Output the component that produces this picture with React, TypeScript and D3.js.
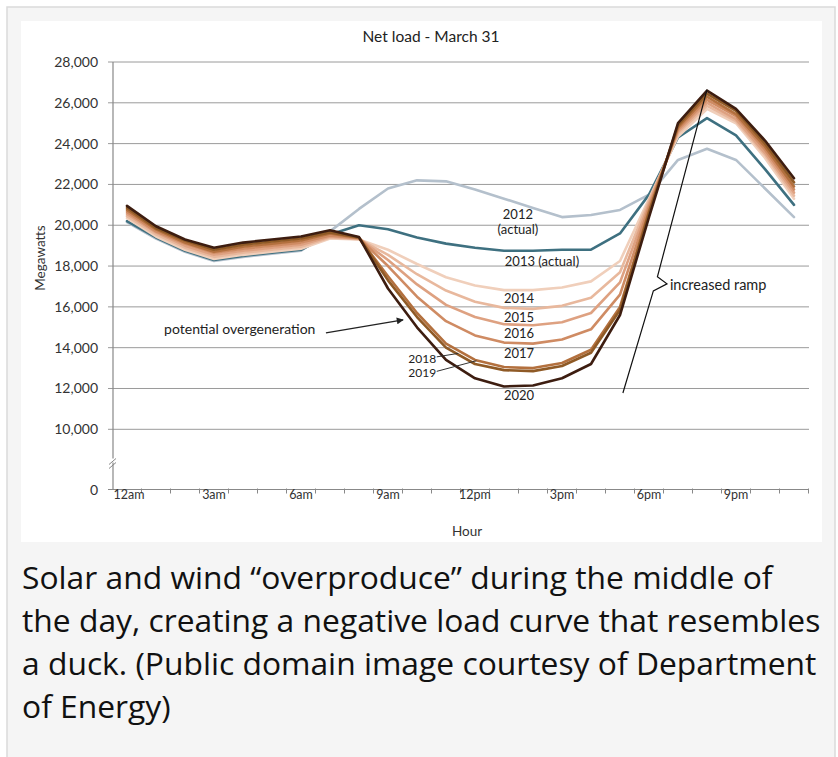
import React from 'react';
import * as d3 from 'd3';

const HOURS = [0, 1, 2, 3, 4, 5, 6, 7, 8, 9, 10, 11, 12, 13, 14, 15, 16, 17, 18, 19, 20, 21, 22, 23];
const X_LABEL_HOURS = [0, 3, 6, 9, 12, 15, 18, 21];
const X_LABELS = ['12am', '3am', '6am', '9am', '12pm', '3pm', '6pm', '9pm'];
const Y_TICKS = [0, 10000, 12000, 14000, 16000, 18000, 20000, 22000, 24000, 26000, 28000];

const S2012 = [20150, 19350, 18700, 18250, 18450, 18600, 18750, 19700, 20800, 21800, 22200, 22150, 21750, 21300, 20850, 20400, 20500, 20750, 21500, 23200, 23750, 23200, 21800, 20400];
const S2013 = [20200, 19400, 18750, 18300, 18500, 18650, 18800, 19550, 20000, 19800, 19400, 19100, 18900, 18750, 18750, 18800, 18800, 19600, 21500, 24300, 25250, 24400, 22750, 21000];
const S2014 = [20350, 19450, 18800, 18350, 18550, 18700, 18850, 19350, 19300, 18800, 18100, 17450, 17050, 16820, 16820, 16950, 17250, 18250, 21300, 24350, 25700, 25000, 23300, 21300];
const S2015 = [20450, 19550, 18900, 18450, 18650, 18800, 18950, 19400, 19320, 18550, 17600, 16800, 16250, 15950, 15900, 16050, 16450, 17700, 21200, 24500, 25850, 25100, 23450, 21450];
const S2016 = [20550, 19650, 19000, 18550, 18750, 18900, 19050, 19450, 19340, 18300, 17100, 16100, 15500, 15150, 15100, 15250, 15700, 17200, 21050, 24600, 26000, 25200, 23550, 21600];
const S2017 = [20650, 19700, 19100, 18650, 18850, 19000, 19150, 19500, 19360, 18000, 16500, 15300, 14600, 14250, 14200, 14400, 14900, 16600, 20900, 24700, 26150, 25350, 23700, 21750];
const S2018 = [20750, 19800, 19150, 18700, 18950, 19100, 19250, 19600, 19380, 17500, 15700, 14200, 13400, 13050, 13000, 13250, 13900, 16000, 20700, 24800, 26300, 25450, 23850, 21900];
const S2019 = [20850, 19850, 19250, 18800, 19050, 19200, 19350, 19650, 19400, 17300, 15500, 14000, 13200, 12900, 12850, 13100, 13750, 15850, 20600, 24900, 26450, 25600, 24000, 22100];
const S2020 = [20950, 19950, 19300, 18900, 19150, 19300, 19450, 19750, 19420, 16900, 15000, 13400, 12500, 12100, 12150, 12500, 13200, 15600, 20400, 25000, 26600, 25700, 24150, 22300];

const SERIES = [S2012, S2013, S2014, S2015, S2016, S2017, S2018, S2019, S2020];
const SERIES_COLORS = ['#b4c0cc', '#3e7080', '#f0cfbb', '#e8b89d', '#dea181', '#cf8b63', '#b3703e', '#8f5a26', '#3d1d10'];

// Year labels: [text, hour, value, anchor]
const YEAR_LABELS: [string, number, number, string][] = [
  ['2012', 13.48, 20330, 'middle'],
  ['(actual)', 13.48, 19560, 'middle'],
  ['2013 (actual)', 14.31, 18010, 'middle'],
  ['2014', 13.52, 16195, 'middle'],
  ['2015', 13.52, 15263, 'middle'],
  ['2016', 13.52, 14478, 'middle'],
  ['2017', 13.52, 13497, 'middle'],
  ['2018', 10.66, 13270, 'end'],
  ['2019', 10.66, 12540, 'end'],
  ['2020', 13.52, 11437, 'middle'],
];
const SMALL_LABELS = ['2018', '2019'];
// Leader lines [hour1, value1, hour2, value2]
const LEADERS: [number, number, number, number][] = [
  [10.68, 13550, 11.42, 13720],
  [10.68, 12840, 12.05, 13360],
];
const OVERGEN_TEXT: [string, number, number] = ['potential overgeneration', 1.28, 14674];
const OVERGEN_ARROW: [number, number, number, number] = [6.86, 14728, 9.52, 15365];
const RAMP_TEXT: [string, number, number] = ['increased ramp', 18.72, 16833];
// ramp line: bottom, brace lower join, brace tip, brace upper join, top
const RAMP_PATH: [number, number][] = [
  [17.1, 11780],
  [18.15, 16783],
  [18.62, 17127],
  [18.29, 17475],
  [20.0, 26650],
];

const CAPTION = [
  'Solar and wind \u201Coverproduce\u201D during the middle of',
  'the day, creating a negative load curve that resembles',
  'a duck. (Public domain image courtesy of Department',
  'of Energy)',
];

export default function App() {
  const W = 838;
  const H = 757;
  const x = d3.scaleLinear().domain([-0.5, 23.5]).range([112.5, 808.5]);
  const y = d3.scaleLinear().domain([0, 10000, 28000]).range([489.5, 429.3, 62]);
  const line = d3
    .line<number>()
    .x((_, i) => x(HOURS[i]))
    .y((d) => y(d));
  const rampLine = d3
    .line<[number, number]>()
    .x((d) => x(d[0]))
    .y((d) => y(d[1]));

  const fmt = d3.format(',');
  const chartFont = 'Lato, "Liberation Sans", sans-serif';
  const xTicks = d3.range(0.5, 23.6, 1);
  const axisX = 113;
  const axisTop = y(28000);
  const axisBottom = y(0);

  return (
    <div style={{ position: 'absolute', left: 0, top: 0 }}>
      <svg width={W} height={H} style={{ display: 'block' }}>
        <defs>
          <marker id="arrow" viewBox="0 0 10 10" refX="9" refY="5" markerWidth="9" markerHeight="7" orient="auto" markerUnits="userSpaceOnUse">
            <path d="M0,0 L10,5 L0,10 z" fill="#222" />
          </marker>
        </defs>
        <rect x={0} y={0} width={W} height={H} fill="#ffffff" />
        <rect x={7} y={7} width={828} height={H} fill="#f5f5f5" stroke="#dadada" strokeWidth={1.5} />
        <rect x={21} y={21} width={801} height={521} fill="#ffffff" />

        {/* title */}
        <text x={431} y={42} textAnchor="middle" fontFamily={chartFont} fontSize={15.5} fill="#222">
          Net load - March 31
        </text>

        {/* gridlines */}
        {Y_TICKS.filter((t) => t >= 10000).map((t) => (
          <line key={'g' + t} x1={108} x2={809} y1={y(t)} y2={y(t)} stroke="#9a9a9a" strokeWidth={1} />
        ))}
        <line x1={108} x2={axisX} y1={axisBottom} y2={axisBottom} stroke="#888" strokeWidth={1} />
        {/* x axis */}
        <line x1={axisX} x2={809} y1={axisBottom} y2={axisBottom} stroke="#888" strokeWidth={1.2} />
        {xTicks.map((h) => (
          <line key={'xt' + h} x1={x(h)} x2={x(h)} y1={axisBottom - 1} y2={axisBottom + 4} stroke="#888" strokeWidth={1} />
        ))}
        {/* y axis */}
        <line x1={axisX} x2={axisX} y1={axisTop} y2={axisBottom} stroke="#888" strokeWidth={1.2} />
        {/* axis break */}
        <rect x={axisX - 3} y={y(0) - 31} width={6} height={4} fill="#ffffff" />
        <line x1={axisX - 4} x2={axisX + 3} y1={y(0) - 25} y2={y(0) - 31} stroke="#888" strokeWidth={1} />
        <line x1={axisX - 4} x2={axisX + 3} y1={y(0) - 21} y2={y(0) - 27} stroke="#888" strokeWidth={1} />

        {/* y labels */}
        {Y_TICKS.map((t) => (
          <text key={'yl' + t} x={98} y={y(t) + 5} textAnchor="end" fontFamily={chartFont} fontSize={14} fill="#333">
            {fmt(t)}
          </text>
        ))}
        <text
          transform={`translate(45,${(y(20000) + y(16000)) / 2 - 8}) rotate(-90)`}
          textAnchor="middle"
          fontFamily={chartFont}
          fontSize={13.5}
          fill="#333"
        >
          Megawatts
        </text>

        {/* x labels */}
        {X_LABEL_HOURS.map((h, i) => (
          <text key={'xl' + h} x={x(h) + (i === 0 ? 2 : 0)} y={axisBottom + 9.5} textAnchor="middle" fontFamily={chartFont} fontSize={12.5} fill="#333">
            {X_LABELS[i]}
          </text>
        ))}
        <text x={467} y={536} textAnchor="middle" fontFamily={chartFont} fontSize={13.5} fill="#333">
          Hour
        </text>

        {/* series */}
        {SERIES.map((s, i) => (
          <path
            key={'s' + i}
            d={line(s) || ''}
            fill="none"
            stroke={SERIES_COLORS[i]}
            strokeWidth={2.6}
            strokeLinejoin="round"
            strokeLinecap="round"
          />
        ))}

        {/* year labels */}
        {YEAR_LABELS.map(([t, h, v, a]) => (
          <text
            key={'yr' + t}
            x={x(h)}
            y={y(v)}
            textAnchor={a as any}
            fontFamily={chartFont}
            fontSize={SMALL_LABELS.includes(t) ? 12 : 13}
            fill="#222"
          >
            {t}
          </text>
        ))}
        {LEADERS.map(([h1, v1, h2, v2], i) => (
          <line key={'ld' + i} x1={x(h1)} y1={y(v1)} x2={x(h2)} y2={y(v2)} stroke="#333" strokeWidth={1} />
        ))}

        {/* potential overgeneration */}
        <text x={x(OVERGEN_TEXT[1])} y={y(OVERGEN_TEXT[2])} fontFamily={chartFont} fontSize={14} fill="#222">
          {OVERGEN_TEXT[0]}
        </text>
        <line
          x1={x(OVERGEN_ARROW[0])}
          y1={y(OVERGEN_ARROW[1])}
          x2={x(OVERGEN_ARROW[2])}
          y2={y(OVERGEN_ARROW[3])}
          stroke="#222"
          strokeWidth={1.3}
          markerEnd="url(#arrow)"
        />

        {/* increased ramp */}
        <path d={rampLine(RAMP_PATH) || ''} fill="none" stroke="#111" strokeWidth={1.2} />
        <text x={x(RAMP_TEXT[1])} y={y(RAMP_TEXT[2])} fontFamily={chartFont} fontSize={14.5} fill="#222">
          {RAMP_TEXT[0]}
        </text>

        {/* caption */}
        {CAPTION.map((c, i) => (
          <text key={'c' + i} x={22} y={589 + i * 43} fontFamily='"Open Sans", sans-serif' fontSize={31.8} fill="#111">
            {c}
          </text>
        ))}
      </svg>
    </div>
  );
}
